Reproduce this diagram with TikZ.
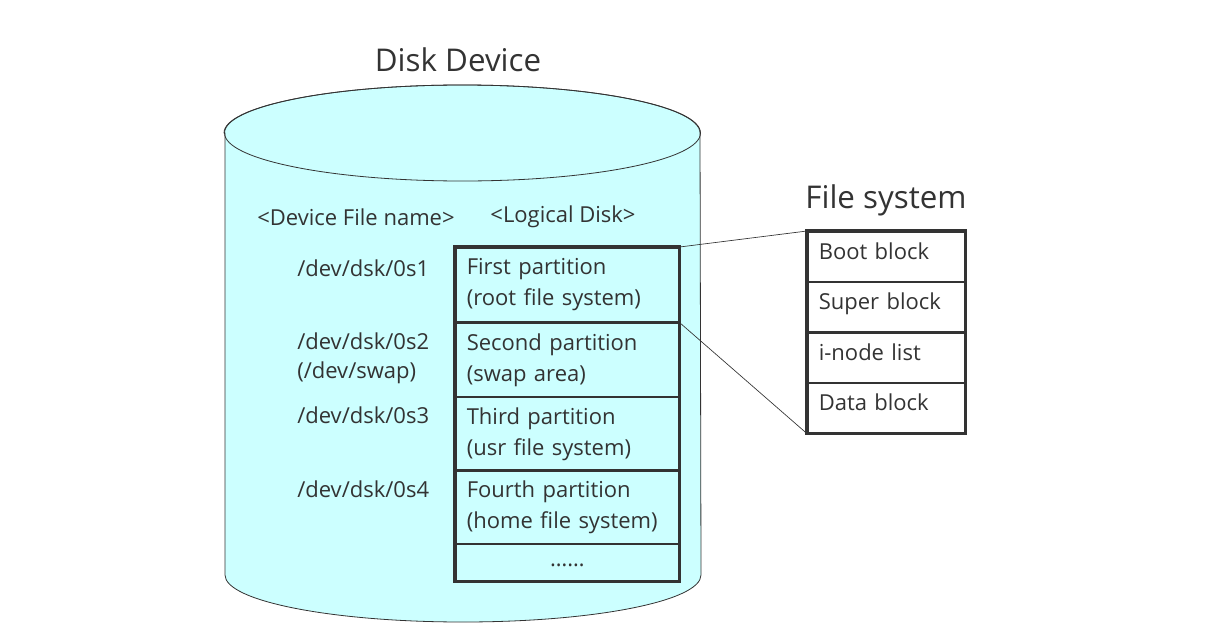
\documentclass[tikz,border=0pt]{standalone}
\usepackage{fontspec}
\setmainfont{Open Sans}
\definecolor{diskfill}{HTML}{CCFFFF}
\definecolor{inkgray}{HTML}{333333}
\tikzset{
    txt/.style={text=inkgray,inner sep=0pt,font=\fontsize{16.5}{23.25}\selectfont},
    part/.style={txt,draw=inkgray,line width=1.2pt,anchor=north west,
        text width=150.75pt,inner xsep=8.25pt,align=left,minimum height=#1},
    fsblock/.style={txt,draw=inkgray,line width=1.2pt,anchor=north west,
        text width=101.25pt,inner xsep=8.25pt,align=left,minimum height=37.5pt,
        text depth=9pt},
    frame/.style={draw=inkgray,line width=2.4pt},
}
\begin{document}
\begin{tikzpicture}[x=0.75pt,y=-0.75pt]
    \useasboundingbox (0,0) rectangle (1230,635);
    % disk cylinder
    \path[fill=diskfill,draw=inkgray,line width=0.6pt] (225,133) -- (225,575)
        arc[start angle=180,end angle=360,x radius=178.5pt,y radius=35.25pt]
        -- (700,133)
        arc[start angle=0,end angle=180,x radius=178.5pt,y radius=36pt] -- cycle;
    \draw[draw=inkgray,line width=0.6pt] (462.5,133) ellipse[x radius=178.5pt,y radius=36pt];
    \node[txt,font=\fontsize{23.5}{28}\selectfont] (disk) at (458,60) {Disk Device};
    \node[txt] (devhead) at (356,217) {<Device File name>};
    \node[txt] (loghead) at (563,217) {<Logical Disk>};
    % partitions
    \node[part=55.5pt] (p1) at (455,247) {First partition\\(root file system)};
    \node[part=55.5pt] (p2) at (455,322) {Second partition\\(swap area)};
    \node[part=55.5pt] (p3) at (455,396) {Third partition\\(usr file system)};
    \node[part=55.5pt] (p4) at (455,469) {Fourth partition\\(home file system)};
    \node[part=27.75pt,align=center] (p5) at (455,543) {\raisebox{-6pt}{……}};
    \draw[frame] (p1.north west) rectangle (p5.south east);
    \foreach \y/\n/\d in {268/s1/{/dev/dsk/0s1},341/s2/{/dev/dsk/0s2},373/swap/{(/dev/swap)},415/s3/{/dev/dsk/0s3},489/s4/{/dev/dsk/0s4}}
    {
        \node[txt,anchor=west] (dev\n) at (297,\y) {\d};
    }
    % file system
    \node[txt,font=\fontsize{23.5}{28}\selectfont] (fs) at (886,200) {File system};
    \node[fsblock] (boot) at (807,231) {Boot block};
    \node[fsblock] (super) at (807,281) {Super block};
    \node[fsblock] (inode) at (807,332) {i-node list};
    \node[fsblock] (data) at (807,382) {Data block};
    \draw[frame] (boot.north west) rectangle (data.south east);
    \draw[draw=inkgray,line width=0.5pt] (p1.north east) -- (boot.north west);
    \draw[draw=inkgray,line width=0.5pt] (p1.south east) -- (data.south west);
\end{tikzpicture}
\end{document}
